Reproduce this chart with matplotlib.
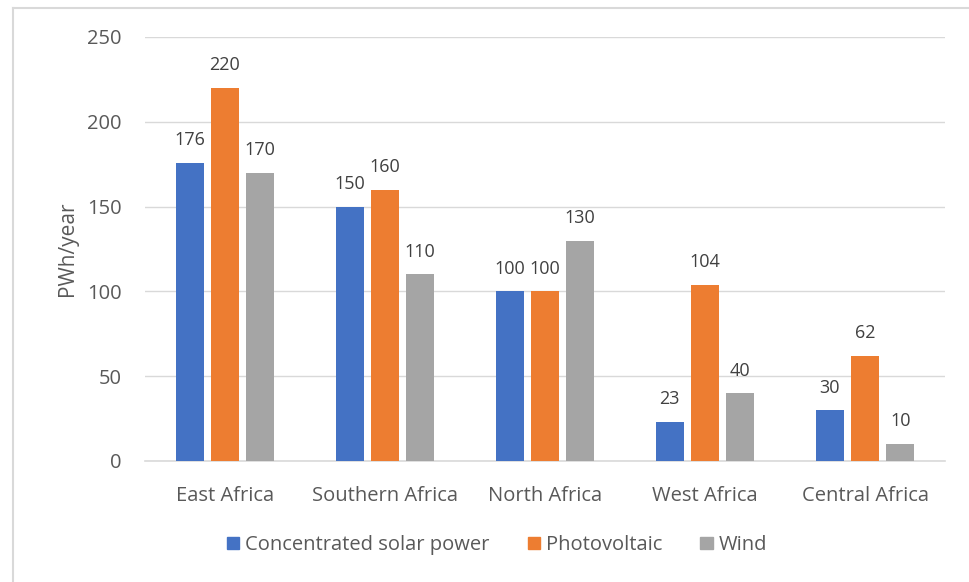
import matplotlib
matplotlib.use("Agg")
import matplotlib.pyplot as plt
from matplotlib.lines import Line2D
import numpy as np

regions = ["East Africa", "Southern Africa", "North Africa", "West Africa", "Central Africa"]
csp = [176, 150, 100, 23, 30]
pv = [220, 160, 100, 104, 62]
wind = [170, 110, 130, 40, 10]
series = ["Concentrated solar power", "Photovoltaic", "Wind"]
colors = ["#4472C4", "#ED7D31", "#A5A5A5"]
yticks = [0, 50, 100, 150, 200, 250]

TEXT = "#595959"
plt.rcParams["font.family"] = ["Open Sans", "DejaVu Sans"]

fig = plt.figure(figsize=(9.7, 5.82), dpi=100)
ax = fig.add_axes([145 / 970, 121 / 582, 800 / 970, 424 / 582])

x = np.arange(len(regions))
width = 0.175
step = 0.22
for i, (vals, name, col) in enumerate(zip([csp, pv, wind], series, colors)):
    pos = x + (i - 1) * step
    bars = ax.bar(pos, vals, width, color=col, label=name, zorder=3)
    for b, v in zip(bars, vals):
        ax.text(b.get_x() + b.get_width() / 2, v + 8, str(v),
                ha="center", va="bottom", fontsize=13, color="#404040")

ax.set_xlim(-0.5, len(regions) - 0.5)
ax.set_ylim(0, 250)
ax.set_yticks(yticks)
ax.set_xticks(x)
ax.set_xticklabels(regions)
ax.tick_params(axis="both", length=0, labelsize=14.5, colors=TEXT)
ax.tick_params(axis="y", pad=17)
ax.tick_params(axis="x", pad=18)
ax.grid(axis="y", color="#D9D9D9", linewidth=1, zorder=0)
for side in ["top", "right", "left"]:
    ax.spines[side].set_visible(False)
ax.spines["bottom"].set_color("#D9D9D9")
ax.spines["bottom"].set_linewidth(1.2)
ax.set_ylabel("PWh/year", fontsize=15, color=TEXT, labelpad=6)

handles = [plt.Rectangle((0, 0), 1, 1, color=c) for c in colors]
fig.legend(handles, series, loc="center", bbox_to_anchor=(497 / 970, 1 - 545 / 582),
           ncol=3, frameon=False, fontsize=14.5, labelcolor=TEXT,
           handlelength=0.6, handleheight=0.6, handletextpad=0.3, columnspacing=1.9)

# chart area outline (top and left edges visible)
fig.add_artist(Line2D([13 / 970, 13 / 970], [0, 1 - 8 / 582], color="#D9D9D9", linewidth=1.5))
fig.add_artist(Line2D([13 / 970, 1], [1 - 8 / 582, 1 - 8 / 582], color="#D9D9D9", linewidth=1.5))

fig.savefig("out.png", dpi=100)
